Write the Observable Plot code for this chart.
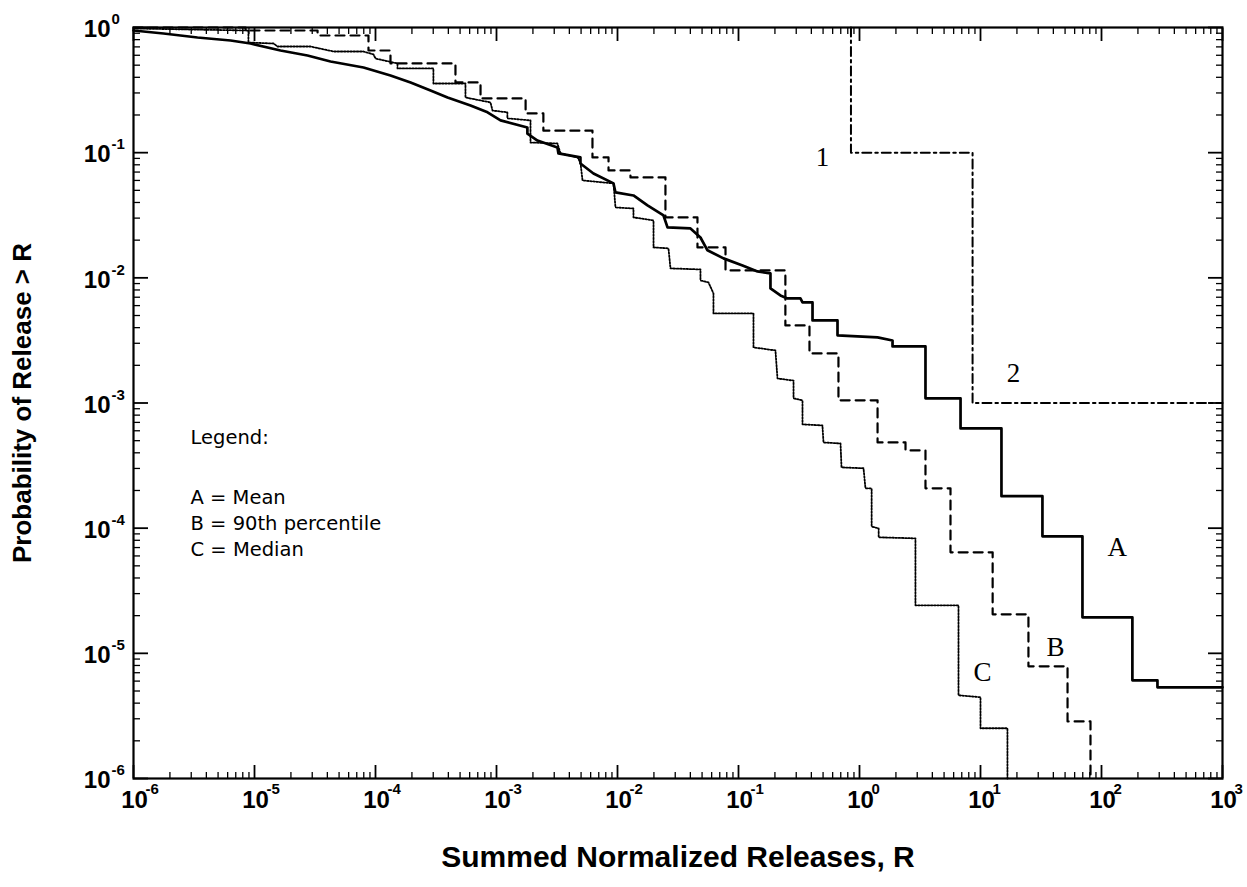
<!DOCTYPE html>
<html>
<head>
<meta charset="utf-8">
<script src="https://cdn.jsdelivr.net/npm/d3@7"></script>
<script src="https://cdn.jsdelivr.net/npm/@observablehq/plot@0.6"></script>
<style>
  html, body { margin: 0; padding: 0; background: #fff; }
  #chart { width: 1247px; height: 887px; }
</style>
</head>
<body>
<div id="chart"></div>
<script>
// ---- Curve A: Mean (solid) ----
const meanR = [1e-6,1.77e-6,3.38e-6,6.34e-6,9.27e-6,1.64e-5,2.74e-5,4.25e-5,7.96e-5,1.33e-4,1.95e-4,2.85e-4,3.94e-4,6.10e-4,8.43e-4,1.08e-3,1.80e-3,1.80e-3,2.18e-3,3.19e-3,3.25e-3,4.94e-3,4.94e-3,6.33e-3,9.27e-3,9.62e-3,0.01355,0.0177,0.0240,0.0259,0.0401,0.0485,0.0554,0.0752,0.108,0.1436,0.1837,0.1837,0.222,0.254,0.325,0.338,0.409,0.409,0.658,0.658,1.41,1.875,1.875,3.51,3.51,6.84,6.84,14.9,14.9,32.5,32.5,69.6,69.6,180,180,290,290,1000];
const meanP = [0.946,0.895,0.832,0.787,0.745,0.655,0.597,0.535,0.479,0.414,0.364,0.314,0.276,0.238,0.210,0.181,0.159,0.142,0.125,0.110,0.0986,0.0916,0.082,0.0682,0.0568,0.0481,0.0455,0.0379,0.0315,0.0253,0.0248,0.0210,0.0166,0.0143,0.01256,0.01125,0.01084,0.00823,0.00723,0.00685,0.00685,0.00636,0.00636,0.00457,0.00457,0.00347,0.00334,0.00316,0.00283,0.00283,0.00109,0.00109,6.27e-4,6.27e-4,1.80e-4,1.80e-4,8.6e-5,8.6e-5,1.94e-5,1.94e-5,6.09e-6,6.09e-6,5.35e-6,5.35e-6];

// ---- Curve B: 90th percentile (dashed, step levels) ----
const p90R = [1e-6,8.43e-6,3.32e-5,8.75e-5,1.33e-4,4.58e-4,7.38e-4,1.74e-3,2.44e-3,6.21e-3,8.43e-3,0.0128,0.0249,0.0458,0.0781,0.244,0.386,0.670,1.41,2.40,3.51,5.65,12.6,24.9,52.4,81.1];
const p90P = [1.0,0.946,0.863,0.655,0.516,0.364,0.271,0.206,0.150,0.0916,0.0721,0.0634,0.0304,0.0175,0.01146,0.00417,0.00249,0.00105,4.84e-4,4.18e-4,2.08e-4,6.41e-5,2.05e-5,7.87e-6,2.86e-6,1e-6];

// ---- Curve C: Median (dotted) ----
const medR = [1e-6,8.91e-6,8.91e-6,1.44e-5,1.55e-5,2.90e-5,4.50e-5,7.96e-5,9.63e-5,1.0e-4,1.52e-4,1.52e-4,3.01e-4,3.01e-4,5.54e-4,5.54e-4,8.92e-4,9.27e-4,1.23e-3,1.23e-3,1.91e-3,1.91e-3,3.19e-3,3.38e-3,4.67e-3,4.94e-3,5.14e-3,9.27e-3,9.62e-3,0.01355,0.01355,0.01985,0.01985,0.02638,0.0274,0.0485,0.0485,0.0565,0.0621,0.0621,0.133,0.133,0.202,0.210,0.285,0.285,0.338,0.338,0.494,0.504,0.697,0.710,1.08,1.12,1.26,1.26,1.44,1.44,2.90,2.90,6.58,6.58,10.0,10.0,16.7,16.7];
const medP = [0.982,0.946,0.759,0.745,0.705,0.705,0.643,0.643,0.609,0.565,0.516,0.471,0.471,0.357,0.357,0.276,0.252,0.217,0.210,0.188,0.181,0.1206,0.1184,0.0986,0.0916,0.0835,0.0600,0.0568,0.0365,0.0358,0.0304,0.0287,0.0175,0.0172,0.0119,0.01167,0.00953,0.00919,0.00751,0.00520,0.00520,0.00278,0.00263,0.00157,0.00151,0.00109,0.00105,6.75e-4,6.62e-4,4.84e-4,4.75e-4,3.06e-4,3.01e-4,2.08e-4,2.08e-4,1.03e-4,9.96e-5,8.45e-5,8.29e-5,2.42e-5,2.42e-5,4.62e-6,4.46e-6,2.52e-6,2.52e-6,1e-6];

// ---- Limit line 1/2 (dash-dot, step levels) ----
const limitR = [0.85,0.85,8.6,1000];
const limitP = [1,0.1,1e-3,1e-3];

// ---- Annotations ----
const curveLabels = ["A","B","C","1","2"];
const curveLabelR = [135,41.7,10.4,0.494,18.7];
const curveLabelP = [7.0e-5,1.12e-5,7.05e-6,0.0916,1.72e-3];

const legendLines = ["Legend:","A = Mean","B = 90th percentile","C = Median"];
const legendR = [2.96e-6,2.96e-6,2.96e-6,2.96e-6];
const legendP = [5.31e-4,1.76e-4,1.09e-4,6.77e-5];

// ---- Axes ----
const xExponents = [-6,-5,-4,-3,-2,-1,0,1,2,3];
const yExponents = [-6,-5,-4,-3,-2,-1,0];
const minorMultipliers = [2,3,4,5,6,7,8,9];
const xTitle = "Summed Normalized Releases, R";
const yTitle = "Probability of Release > R";

const zip = (R, P) => R.map((r, i) => ({R: r, P: P[i]}));
const meanRows = zip(meanR, meanP);
const p90Rows = zip(p90R, p90P);
const medRows = zip(medR, medP);
const limitRows = zip(limitR, limitP);
const curveLabelRows = curveLabels.map((t, i) => ({R: curveLabelR[i], P: curveLabelP[i], t}));
const legendRows = legendLines.map((t, i) => ({R: legendR[i], P: legendP[i], t}));

const xMajor = xExponents.map(e => Math.pow(10, e));
const yMajor = yExponents.map(e => Math.pow(10, e));
const minorOf = exps => exps.slice(0, -1).flatMap(e => minorMultipliers.map(m => m * Math.pow(10, e)));
const xMinor = minorOf(xExponents);
const yMinor = minorOf(yExponents);
const expLabel = d => String(Math.round(Math.log10(d)));
const blank = () => "";
const tickFont = "'Liberation Sans Narrow', 'Liberation Sans', Arial, sans-serif";

const chart = Plot.plot({
  width: 1247,
  height: 887,
  marginLeft: 133,
  marginRight: 25,
  marginTop: 27,
  marginBottom: 109,
  style: {fontFamily: "'Liberation Sans', Arial, sans-serif", background: "#fff", color: "#000", overflow: "visible"},
  x: {type: "log", domain: [1e-6, 1e3], label: null},
  y: {type: "log", domain: [1e-6, 1], label: null},
  marks: [
    // inward ticks on all four sides
    Plot.axisX(xMinor, {anchor: "bottom", tickSize: -6, tickFormat: blank, label: null, strokeWidth: 1.3}),
    Plot.axisX(xMajor, {anchor: "bottom", tickSize: -13, tickFormat: blank, label: null, strokeWidth: 1.8}),
    Plot.axisX(xMinor, {anchor: "top", tickSize: -6, tickFormat: blank, label: null, strokeWidth: 1.3}),
    Plot.axisX(xMajor, {anchor: "top", tickSize: -13, tickFormat: blank, label: null, strokeWidth: 1.8}),
    Plot.axisY(yMinor, {anchor: "left", tickSize: -7, tickFormat: blank, label: null, strokeWidth: 1.3}),
    Plot.axisY(yMajor, {anchor: "left", tickSize: -15, tickFormat: blank, label: null, strokeWidth: 1.8}),
    Plot.axisY(yMinor, {anchor: "right", tickSize: -7, tickFormat: blank, label: null, strokeWidth: 1.3}),
    Plot.axisY(yMajor, {anchor: "right", tickSize: -15, tickFormat: blank, label: null, strokeWidth: 1.8}),
    // tick labels 10^n
    Plot.axisX(xMajor, {anchor: "bottom", tickSize: 0, tickPadding: 12, tickFormat: () => "10", fontFamily: tickFont, fontSize: 24, fontWeight: "bold", label: null, dx: 1}),
    Plot.axisX(xMajor, {anchor: "bottom", tickSize: 0, tickPadding: 5, tickFormat: expLabel, fontFamily: tickFont, fontSize: 15, fontWeight: "bold", textAnchor: "start", dx: 12, label: null}),
    Plot.axisY(yMajor, {anchor: "left", tickSize: 0, tickPadding: 23, tickFormat: () => "10", fontFamily: tickFont, fontSize: 24, fontWeight: "bold", label: null, dy: 2}),
    Plot.axisY(yMajor, {anchor: "left", tickSize: 0, tickPadding: 22, tickFormat: expLabel, fontFamily: tickFont, fontSize: 15, fontWeight: "bold", textAnchor: "start", dy: -8, label: null}),
    // curves
    Plot.line(limitRows, {x: "R", y: "P", curve: "step-after", stroke: "#000", strokeWidth: 2, strokeDasharray: "9,4,2.5,4"}),
    Plot.line(medRows, {x: "R", y: "P", stroke: "#000", strokeWidth: 1.8, strokeDasharray: "1.6,1.6"}),
    Plot.line(p90Rows, {x: "R", y: "P", curve: "step-after", stroke: "#000", strokeWidth: 2.2, strokeDasharray: "9,6"}),
    Plot.line(meanRows, {x: "R", y: "P", stroke: "#000", strokeWidth: 2.7}),
    // annotations
    Plot.text(curveLabelRows, {x: "R", y: "P", text: "t", fontFamily: "'Liberation Serif', 'DejaVu Serif', serif", fontSize: 27}),
    Plot.text(legendRows, {x: "R", y: "P", text: "t", textAnchor: "start", fontFamily: "'DejaVu Sans', 'Open Sans', sans-serif", fontSize: 19.5}),
    // axis titles
    Plot.text([xTitle], {text: d => d, frameAnchor: "bottom", textAnchor: "middle", lineAnchor: "middle", dy: 79, fontSize: 30, fontWeight: "bold"}),
    Plot.text([yTitle], {text: d => d, frameAnchor: "left", textAnchor: "middle", lineAnchor: "middle", dx: -111, rotate: -90, fontSize: 26, fontWeight: "bold"}),
    Plot.frame({stroke: "#000", strokeWidth: 2.2})
  ]
});
document.getElementById("chart").appendChild(chart);
</script>
</body>
</html>
